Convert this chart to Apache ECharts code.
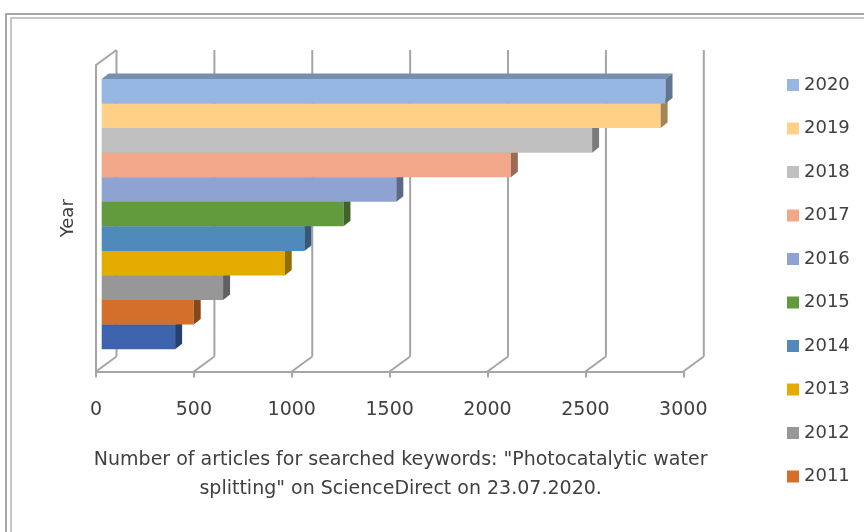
<!DOCTYPE html>
<html>
<head>
<meta charset="utf-8">
<script src="https://cdn.jsdelivr.net/npm/echarts@6/dist/echarts.min.js"></script>
<style>
  html, body { margin: 0; padding: 0; background: #fff; }
  #chart { width: 864px; height: 532px; }
</style>
</head>
<body>
<div id="chart"></div>
<script>
// Years bottom -> top, article counts
const YEARS = ["2010", "2011", "2012", "2013", "2014", "2015", "2016", "2017", "2018", "2019", "2020"];
const ARTICLES = [375, 470, 620, 935, 1035, 1235, 1505, 2090, 2505, 2855, 2880];
const BAR_COLORS = ["#3d63ad", "#d36f2a", "#979797", "#e4ac00", "#4f8abb", "#629b3e",
                    "#8fa3d3", "#f3a78a", "#c0c0c0", "#ffd086", "#95b7e1"];
const LEGEND_YEARS = ["2020", "2019", "2018", "2017", "2016", "2015", "2014", "2013", "2012", "2011"];
const TICKS = [0, 500, 1000, 1500, 2000, 2500, 3000];

const FONT = "'DejaVu Sans', sans-serif";
const TEXT = "#404040";
const GRID_LINE = "#a5a5a5";

// 3D look: wall depth and bar offset/depth (pixels)
const WALL_DX = 20.5, WALL_DY = 15;
const BAR_SHIFT_X = 5.7, BAR_SHIFT_Y = 4.2;
const BAR_DX = 7, BAR_DY = 5.5;

const chart = echarts.init(document.getElementById("chart"));

// darken a #rrggbb colour by factor f (0..1)
function shade(hex, f) {
  const n = parseInt(hex.slice(1), 16);
  const r = Math.round(((n >> 16) & 255) * f);
  const g = Math.round(((n >> 8) & 255) * f);
  const b = Math.round((n & 255) * f);
  return `rgb(${r},${g},${b})`;
}

function renderWalls(params, api) {
  const t = api.value(0);
  const rect = params.coordSys;
  const x = api.coord([t, 0])[0];
  const top = rect.y, bottom = rect.y + rect.height;
  const style = { stroke: GRID_LINE, lineWidth: 2, fill: null };
  const children = [
    { type: "line", shape: { x1: x + WALL_DX, y1: top - WALL_DY, x2: x + WALL_DX, y2: bottom - WALL_DY }, style },
    { type: "line", shape: { x1: x, y1: bottom, x2: x + WALL_DX, y2: bottom - WALL_DY }, style },
  ];
  if (params.dataIndex === 0) {
    children.push({ type: "line", shape: { x1: x, y1: top, x2: x + WALL_DX, y2: top - WALL_DY }, style });
  }
  return { type: "group", children };
}

function renderBar(params, api) {
  const v = api.value(0), i = api.value(1);
  const a = api.coord([0, i + 0.5]);
  const b = api.coord([v, i - 0.5]);
  const x0 = a[0] + BAR_SHIFT_X, y0 = a[1] - BAR_SHIFT_Y;
  const x1 = b[0] + BAR_SHIFT_X, y1 = b[1] - BAR_SHIFT_Y;
  const color = BAR_COLORS[params.seriesIndex - 1];
  return {
    type: "group",
    children: [
      { type: "rect", shape: { x: x0, y: y0, width: x1 - x0, height: y1 - y0 }, style: { fill: color } },
      {
        type: "polygon",
        shape: { points: [[x0, y0], [x0 + BAR_DX, y0 - BAR_DY], [x1 + BAR_DX, y0 - BAR_DY], [x1, y0]] },
        style: { fill: shade(color, 0.78) },
      },
      {
        type: "polygon",
        shape: { points: [[x1, y0], [x1 + BAR_DX, y0 - BAR_DY], [x1 + BAR_DX, y1 - BAR_DY], [x1, y1]] },
        style: { fill: shade(color, 0.64) },
      },
    ],
  };
}

const series = [
  {
    name: "walls",
    type: "custom",
    renderItem: renderWalls,
    data: TICKS.map((t) => [t]),
    z: 1,
    silent: true,
  },
];

YEARS.forEach((year, i) => {
  series.push({
    name: year,
    type: "custom",
    renderItem: renderBar,
    data: [[ARTICLES[i], i]],
    itemStyle: { color: BAR_COLORS[i] },
    z: 2 + i,
  });
});

const option = {
  animation: false,
  backgroundColor: "#fff",
  textStyle: { fontFamily: FONT },
  graphic: [
    { type: "rect", shape: { x: 6, y: 14, width: 900, height: 560 }, style: { fill: null, stroke: "#8a8a8a", lineWidth: 1.5 } },
    { type: "rect", shape: { x: 11, y: 18, width: 900, height: 560 }, style: { fill: null, stroke: "#b4b4b4", lineWidth: 1.5 } },
  ],
  grid: { left: 96, top: 65, width: 587.3, height: 306.5 },
  xAxis: {
    type: "value",
    min: 0,
    max: 3000,
    interval: 500,
    name: 'Number of articles for searched keywords: "Photocatalytic water\nsplitting" on ScienceDirect on 23.07.2020.',
    nameLocation: "middle",
    nameGap: 74,
    nameTextStyle: { color: TEXT, fontSize: 19, lineHeight: 29, fontFamily: FONT, padding: [0, 0, 0, 22] },
    axisLine: { show: true, onZero: false, lineStyle: { color: GRID_LINE, width: 2 } },
    axisTick: { show: true, length: 6, lineStyle: { color: GRID_LINE, width: 2 } },
    axisLabel: { color: TEXT, fontSize: 19, margin: 29, fontFamily: FONT, formatter: (v) => String(v) },
    splitLine: { show: false },
  },
  yAxis: {
    type: "value",
    min: -1.24,
    max: 11.24,
    name: "Year",
    nameLocation: "middle",
    nameGap: 19,
    nameTextStyle: { color: TEXT, fontSize: 18, fontFamily: FONT },
    axisLine: { show: true, onZero: false, lineStyle: { color: GRID_LINE, width: 2 } },
    axisTick: { show: false },
    axisLabel: { show: false },
    splitLine: { show: false },
  },
  legend: {
    data: LEGEND_YEARS,
    orient: "vertical",
    left: 782,
    top: 70,
    itemWidth: 12,
    itemHeight: 12,
    itemGap: 23.5,
    icon: "rect",
    textStyle: { color: TEXT, fontSize: 18, lineHeight: 20, fontFamily: FONT },
    selectedMode: false,
  },
  series,
};

chart.setOption(option);
</script>
</body>
</html>
